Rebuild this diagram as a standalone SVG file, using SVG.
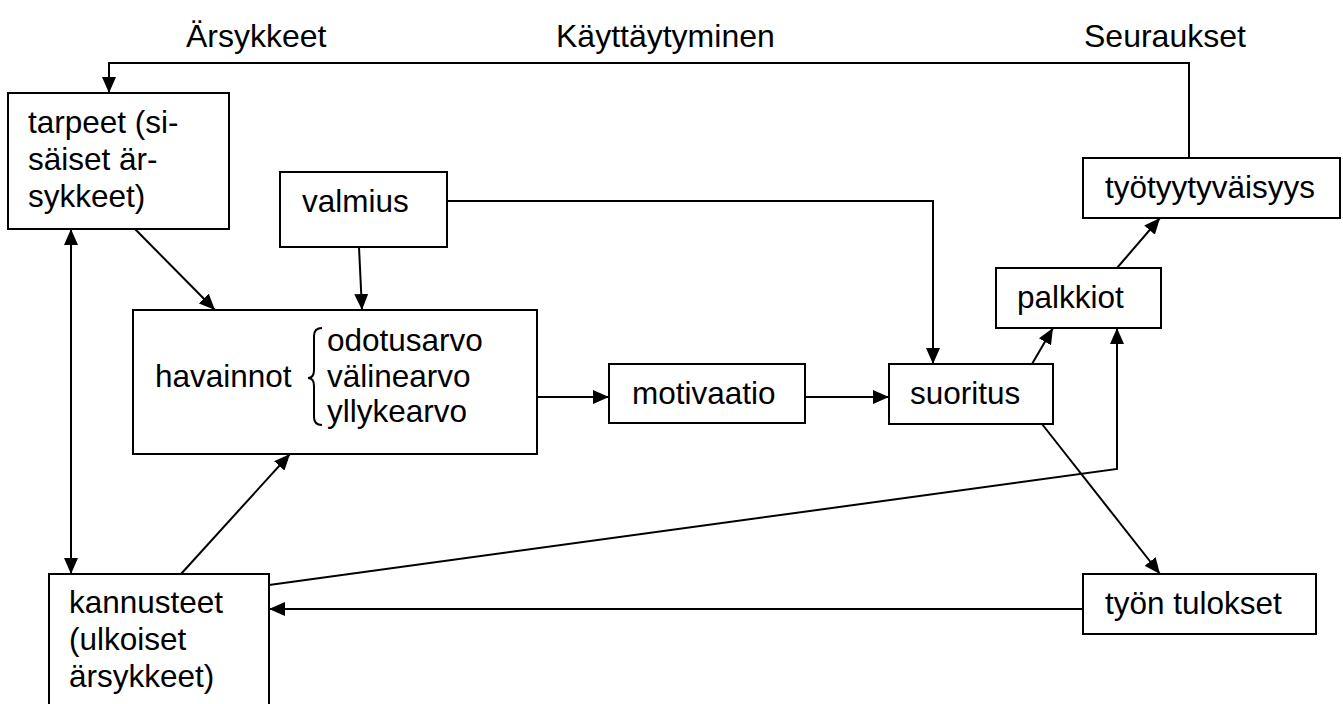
<svg xmlns="http://www.w3.org/2000/svg" width="1343" height="704" viewBox="0 0 1343 704">
  <style>
    .box { fill: #ffffff; stroke: #000000; stroke-width: 2; }
    .lbl { font-family: "Liberation Sans", Arial, sans-serif; font-size: 31.5px; fill: #000000; }
    .head { font-family: "Liberation Sans", Arial, sans-serif; font-size: 32px; fill: #000000; }
    .wire { fill: none; stroke: #000000; stroke-width: 2; }
  </style>
  <defs>
    <marker id="arrow" viewBox="0 0 16 14" refX="16" refY="7" markerWidth="16" markerHeight="14" markerUnits="userSpaceOnUse" orient="auto-start-reverse">
      <path d="M0,0 L16,7 L0,14 z" fill="#000000"/>
    </marker>
  </defs>
  <rect width="1343" height="704" fill="#ffffff"/>

  <!-- column headings -->
  <g id="headings">
    <text class="head" x="186" y="47">Ärsykkeet</text>
    <text class="head" x="556" y="47">Käyttäytyminen</text>
    <text class="head" x="1084" y="47">Seuraukset</text>
  </g>

  <!-- connectors -->
  <g id="connectors">
    <polyline class="wire" points="1189,158 1189,63 109,63 109,93" marker-end="url(#arrow)"/>
    <line class="wire" x1="135" y1="229" x2="215" y2="310" marker-end="url(#arrow)"/>
    <line class="wire" x1="359" y1="247" x2="362" y2="310" marker-end="url(#arrow)"/>
    <polyline class="wire" points="447,201 933,201 933,364" marker-end="url(#arrow)"/>
    <line class="wire" x1="537" y1="397" x2="609" y2="397" marker-end="url(#arrow)"/>
    <line class="wire" x1="805" y1="397" x2="889" y2="397" marker-end="url(#arrow)"/>
    <line class="wire" x1="1032" y1="364" x2="1053" y2="328" marker-end="url(#arrow)"/>
    <line class="wire" x1="1117" y1="268" x2="1160" y2="218" marker-end="url(#arrow)"/>
    <line class="wire" x1="1042" y1="424" x2="1160" y2="574" marker-end="url(#arrow)"/>
    <line class="wire" x1="71" y1="229" x2="71" y2="574" marker-start="url(#arrow)" marker-end="url(#arrow)"/>
    <line class="wire" x1="181" y1="574" x2="290" y2="454" marker-end="url(#arrow)"/>
    <polyline class="wire" points="269,585 1117,469 1117,328" marker-end="url(#arrow)"/>
    <line class="wire" x1="1083" y1="609" x2="269" y2="609" marker-end="url(#arrow)"/>
  </g>

  <g id="tarpeet">
    <rect class="box" x="8" y="93" width="221" height="136"/>
    <text class="lbl" x="28" y="133">tarpeet (si-</text>
    <text class="lbl" x="28" y="170">säiset är-</text>
    <text class="lbl" x="28" y="207">sykkeet)</text>
  </g>

  <g id="valmius">
    <rect class="box" x="280" y="172" width="167" height="75"/>
    <text class="lbl" x="302" y="212">valmius</text>
  </g>

  <g id="havainnot">
    <rect class="box" x="133" y="310" width="404" height="144"/>
    <text class="lbl" x="155" y="387">havainnot</text>
    <path class="wire" d="M322,328 Q314,328 314,336 L314,370 Q314,378 308,378 Q314,378 314,386 L314,417 Q314,425 322,425" stroke-width="1.5"/>
    <text class="lbl" x="327" y="351">odotusarvo</text>
    <text class="lbl" x="327" y="387">välinearvo</text>
    <text class="lbl" x="327" y="422">yllykearvo</text>
  </g>

  <g id="motivaatio">
    <rect class="box" x="609" y="364" width="196" height="59"/>
    <text class="lbl" x="632" y="404">motivaatio</text>
  </g>

  <g id="suoritus">
    <rect class="box" x="889" y="364" width="164" height="60"/>
    <text class="lbl" x="910" y="404">suoritus</text>
  </g>

  <g id="palkkiot">
    <rect class="box" x="996" y="268" width="165" height="60"/>
    <text class="lbl" x="1017" y="308">palkkiot</text>
  </g>

  <g id="tyotyytyvaisyys">
    <rect class="box" x="1083" y="158" width="257" height="60"/>
    <text class="lbl" x="1105" y="198">työtyytyväisyys</text>
  </g>

  <g id="tyon-tulokset">
    <rect class="box" x="1083" y="574" width="233" height="60"/>
    <text class="lbl" x="1105" y="614">työn tulokset</text>
  </g>

  <g id="kannusteet">
    <rect class="box" x="49" y="574" width="220" height="140"/>
    <text class="lbl" x="69" y="613">kannusteet</text>
    <text class="lbl" x="69" y="650">(ulkoiset</text>
    <text class="lbl" x="69" y="687">ärsykkeet)</text>
  </g>
</svg>
